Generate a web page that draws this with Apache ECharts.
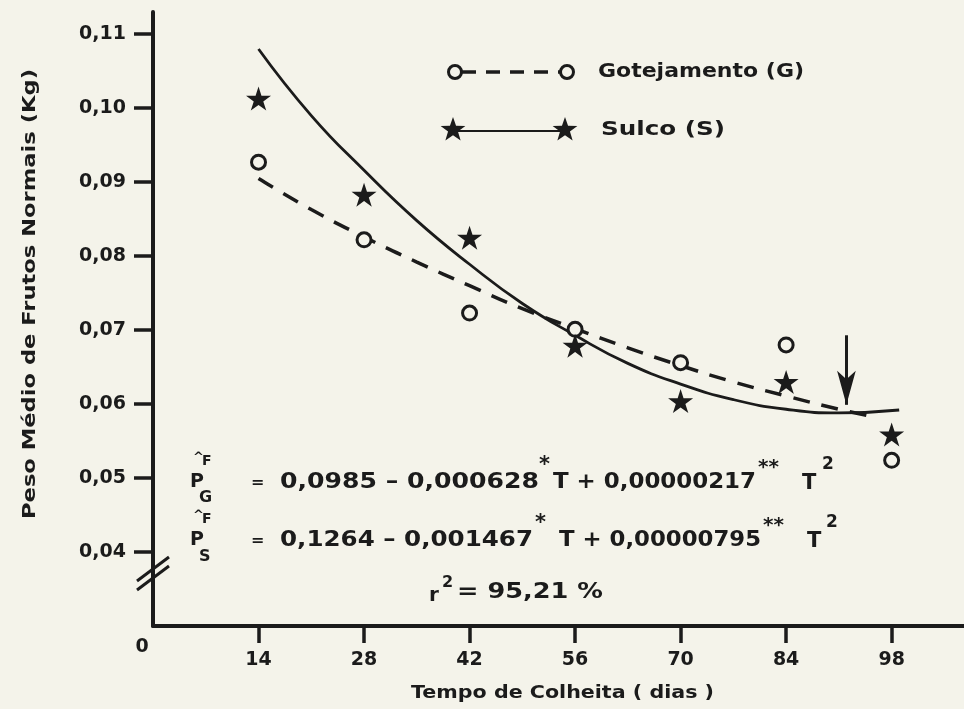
<!DOCTYPE html>
<html>
<head>
<meta charset="utf-8">
<script src="https://cdn.jsdelivr.net/npm/echarts@6/dist/echarts.min.js"></script>
<style>
  html, body { margin: 0; padding: 0; background: #f4f3ea; }
  #chart { width: 964px; height: 709px; }
</style>
</head>
<body>
<div id="chart"></div>
<script>
// dias de colheita e pesos medios (kg)
var dias = [14, 28, 42, 56, 70, 84, 98];
var gotejamento = [0.0927, 0.0822, 0.0723, 0.0701, 0.0656, 0.0680, 0.0524];
var sulco = [0.1013, 0.0883, 0.0825, 0.0679, 0.0604, 0.0630, 0.0559];

// curvas ajustadas
var diasCurvaG = [14, 21, 28, 35, 42, 49, 56, 63, 70, 77, 84, 91, 96];
var curvaG = [0.0905, 0.0863, 0.0826, 0.0792, 0.0760, 0.0729, 0.0702, 0.0676, 0.0652, 0.0630, 0.0611, 0.0593, 0.0582];
var diasCurvaS = [14, 21, 28, 35, 42, 49, 56, 63, 70, 77, 84, 91, 99];
var curvaS = [0.1080, 0.0990, 0.0916, 0.0848, 0.0789, 0.0736, 0.0693, 0.0655, 0.0627, 0.0606, 0.0593, 0.0588, 0.0592];

var yTicks = [0.04, 0.05, 0.06, 0.07, 0.08, 0.09, 0.10, 0.11];
var xTicks = [14, 28, 42, 56, 70, 84, 98];

var ink = '#1b1b1b';
var paper = '#f4f3ea';
var fam = '"DejaVu Sans", sans-serif';
var star = 'path://M50 0 L61.2 34.5 L97.6 34.5 L68.2 55.9 L79.4 90.5 L50 69.1 L20.6 90.5 L31.8 55.9 L2.4 34.5 L38.8 34.5 Z';

var ctx = document.createElement('canvas').getContext('2d');

function zip(xs, ys) {
  return xs.map(function (x, i) { return [x, ys[i]]; });
}

function txt(x, y, s, size, align) {
  return {
    type: 'text', x: x, y: y, z: 10,
    style: { text: s, fill: ink, font: 'bold ' + size + 'px ' + fam, align: align || 'left', verticalAlign: 'middle' }
  };
}

// texto esticado na horizontal ate a largura w
function fit(x, y, s, size, w, align) {
  ctx.font = 'bold ' + size + 'px ' + fam;
  var el = txt(x, y, s, size, align);
  el.scaleX = w / ctx.measureText(s).width;
  return el;
}

function starPts(cx, cy, r) {
  var pts = [];
  for (var i = 0; i < 10; i++) {
    var a = -Math.PI / 2 + i * Math.PI / 5;
    var rr = i % 2 ? r * 0.4 : r;
    pts.push([cx + rr * Math.cos(a), cy + rr * Math.sin(a)]);
  }
  return pts;
}

var chart = echarts.init(document.getElementById('chart'));

var yTitle = fit(30, 294, 'Peso Médio de Frutos Normais (Kg)', 18, 450, 'center');
yTitle.rotation = Math.PI / 2;

var graphics = [
  // legenda
  { type: 'line', shape: { x1: 462, y1: 72, x2: 560, y2: 72 }, style: { stroke: ink, lineWidth: 3.5, lineDash: [14, 10] } },
  { type: 'circle', shape: { cx: 455, cy: 72, r: 6.5 }, style: { fill: paper, stroke: ink, lineWidth: 3 } },
  { type: 'circle', shape: { cx: 567, cy: 72, r: 6.5 }, style: { fill: paper, stroke: ink, lineWidth: 3 } },
  fit(598, 72, 'Gotejamento (G)', 20, 206),
  { type: 'line', shape: { x1: 458, y1: 131, x2: 560, y2: 131 }, style: { stroke: ink, lineWidth: 2 } },
  { type: 'polygon', shape: { points: starPts(453, 130, 13) }, style: { fill: ink } },
  { type: 'polygon', shape: { points: starPts(565, 130, 13) }, style: { fill: ink } },
  fit(601, 130, 'Sulco (S)', 20, 124),

  // titulos dos eixos
  yTitle,
  fit(411, 694, 'Tempo de Colheita ( dias )', 17, 303),
  txt(142, 647, '0', 19, 'center'),

  // quebra do eixo
  { type: 'line', shape: { x1: 137, y1: 590, x2: 169, y2: 566 }, style: { stroke: ink, lineWidth: 3 } },
  { type: 'line', shape: { x1: 137, y1: 581, x2: 169, y2: 557 }, style: { stroke: ink, lineWidth: 3 } },

  // equacao G
  txt(193, 458, '^', 13), txt(202, 461, 'F', 14),
  txt(190, 482, 'P', 19), txt(199, 498, 'G', 16),
  txt(251, 483, '=', 16),
  fit(280, 483, '0,0985 – 0,000628', 21, 259),
  txt(539, 466, '*', 21),
  fit(553, 483, 'T + 0,00000217', 21, 203),
  txt(758, 468, '**', 20),
  txt(802, 484, 'T', 21),
  txt(822, 465, '2', 17),

  // equacao S
  txt(193, 516, '^', 13), txt(202, 519, 'F', 14),
  txt(190, 540, 'P', 19), txt(199, 557, 'S', 16),
  txt(251, 541, '=', 16),
  fit(280, 541, '0,1264 – 0,001467', 21, 253),
  txt(535, 524, '*', 21),
  fit(559, 541, 'T + 0,00000795', 21, 202),
  txt(763, 526, '**', 20),
  txt(807, 542, 'T', 21),
  txt(826, 523, '2', 17),

  // r2
  txt(429, 596, 'r', 20),
  txt(442, 583, '2', 16),
  fit(457, 593, '= 95,21 %', 21, 146)
];

var option = {
  backgroundColor: paper,
  animation: false,
  grid: { left: 153, right: 0, top: 12, bottom: 83 },
  xAxis: {
    type: 'value',
    min: 0,
    max: 107.6,
    splitLine: { show: false },
    axisLine: { lineStyle: { color: ink, width: 4 } },
    axisTick: { inside: false, length: 17, lineStyle: { color: ink, width: 3.5 }, customValues: xTicks },
    axisLabel: { color: ink, fontFamily: fam, fontWeight: 'bold', fontSize: 19, margin: 25, customValues: xTicks }
  },
  yAxis: {
    type: 'value',
    min: 0.03,
    max: 0.113,
    splitLine: { show: false },
    axisLine: { onZero: false, lineStyle: { color: ink, width: 4 } },
    axisTick: { length: 19, lineStyle: { color: ink, width: 3.5 }, customValues: yTicks },
    axisLabel: {
      color: ink, fontFamily: fam, fontWeight: 'bold', fontSize: 19, margin: 27,
      customValues: yTicks,
      formatter: function (v) { return v.toFixed(2).replace('.', ','); }
    }
  },
  graphic: graphics,
  series: [
    {
      name: 'Gotejamento (G) ajuste',
      type: 'line',
      smooth: true,
      showSymbol: false,
      data: zip(diasCurvaG, curvaG),
      lineStyle: { color: ink, width: 3.5, type: [17, 12] },
      z: 2
    },
    {
      name: 'Sulco (S) ajuste',
      type: 'line',
      smooth: true,
      showSymbol: false,
      data: zip(diasCurvaS, curvaS),
      lineStyle: { color: ink, width: 2.8 },
      z: 2,
      markLine: {
        silent: true,
        symbol: ['none', 'arrow'],
        label: { show: false },
        lineStyle: { color: ink, width: 3, type: 'solid' },
        data: [[
          { coord: [92, 0.0693], symbol: 'none' },
          { coord: [92, 0.0599], symbol: 'arrow', symbolSize: [14, 34] }
        ]]
      }
    },
    {
      name: 'Gotejamento (G)',
      type: 'scatter',
      symbol: 'circle',
      symbolSize: 14,
      data: zip(dias, gotejamento),
      itemStyle: { color: paper, borderColor: ink, borderWidth: 3, opacity: 1 },
      z: 4
    },
    {
      name: 'Sulco (S)',
      type: 'scatter',
      symbol: star,
      symbolSize: [25, 24],
      data: zip(dias, sulco),
      itemStyle: { color: ink, opacity: 1 },
      z: 4
    }
  ]
};

chart.setOption(option);
</script>
</body>
</html>
